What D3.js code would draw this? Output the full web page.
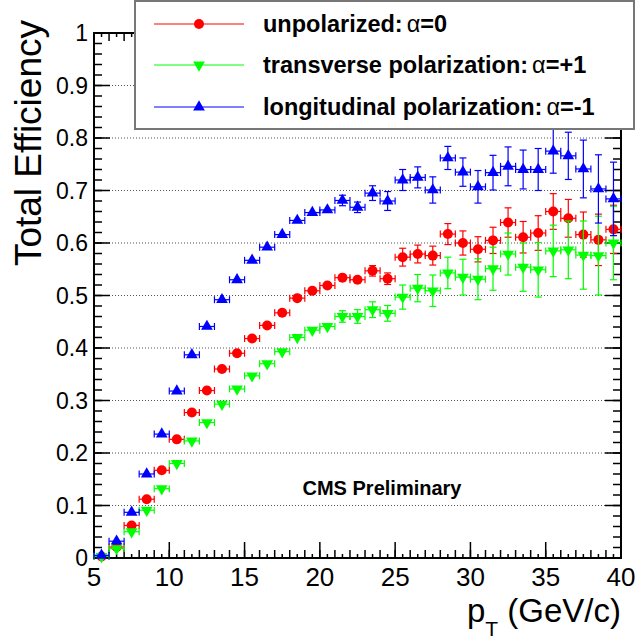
<!DOCTYPE html>
<html>
<head>
<meta charset="utf-8">
<script src="https://cdn.jsdelivr.net/npm/d3@7/dist/d3.min.js"></script>
<style>
  body { margin: 0; background: #fff; }
  svg { display: block; font-family: "Liberation Sans", Arial, sans-serif; }
</style>
</head>
<body>
<div id="chart"></div>
<script>
// bin centres (GeV/c)
var ptBins = [5.5, 6.5, 7.5, 8.5, 9.5, 10.5, 11.5, 12.5, 13.5, 14.5,
              15.5, 16.5, 17.5, 18.5, 19.5, 20.5, 21.5, 22.5, 23.5, 24.5,
              25.5, 26.5, 27.5, 28.5, 29.5, 30.5, 31.5, 32.5, 33.5, 34.5,
              35.5, 36.5, 37.5, 38.5, 39.5];
var binHalfWidth = 0.5;

// unpolarized: alpha = 0
var unpol = [0.003, 0.021, 0.062, 0.112, 0.167, 0.226, 0.277, 0.319, 0.360, 0.390,
             0.418, 0.443, 0.467, 0.495, 0.509, 0.519, 0.534, 0.530, 0.547, 0.532,
             0.573, 0.579, 0.576, 0.617, 0.600, 0.588, 0.605, 0.639, 0.611, 0.619,
             0.660, 0.647, 0.616, 0.606, 0.626];
var unpolErr = [0.002, 0.003, 0.003, 0.004, 0.004, 0.004, 0.005, 0.005, 0.005, 0.005,
                0.006, 0.006, 0.006, 0.007, 0.007, 0.008, 0.008, 0.009, 0.010, 0.011,
                0.017, 0.017, 0.018, 0.020, 0.023, 0.024, 0.025, 0.028, 0.030, 0.033,
                0.034, 0.036, 0.043, 0.049, 0.046];

// transverse polarization: alpha = +1
var trans = [0.003, 0.018, 0.050, 0.091, 0.132, 0.180, 0.223, 0.258, 0.293, 0.322,
             0.347, 0.370, 0.393, 0.420, 0.434, 0.441, 0.460, 0.460, 0.473, 0.466,
             0.497, 0.514, 0.509, 0.543, 0.535, 0.531, 0.551, 0.579, 0.554, 0.549,
             0.585, 0.587, 0.577, 0.576, 0.600];
var transErr = [0.002, 0.003, 0.003, 0.004, 0.004, 0.004, 0.005, 0.005, 0.005, 0.006,
                0.006, 0.006, 0.007, 0.007, 0.008, 0.009, 0.011, 0.013, 0.015, 0.015,
                0.023, 0.026, 0.030, 0.030, 0.034, 0.039, 0.041, 0.040, 0.046, 0.052,
                0.049, 0.055, 0.065, 0.075, 0.070];

// longitudinal polarization: alpha = -1
var longi = [0.005, 0.032, 0.087, 0.160, 0.236, 0.318, 0.387, 0.441, 0.492, 0.530,
             0.567, 0.592, 0.616, 0.643, 0.658, 0.663, 0.681, 0.668, 0.695, 0.680,
             0.720, 0.725, 0.701, 0.762, 0.735, 0.707, 0.734, 0.746, 0.740, 0.740,
             0.775, 0.766, 0.741, 0.703, 0.684];
var longiErr = [0.003, 0.004, 0.004, 0.005, 0.005, 0.005, 0.005, 0.006, 0.006, 0.006,
                0.006, 0.007, 0.007, 0.008, 0.008, 0.009, 0.010, 0.010, 0.014, 0.018,
                0.020, 0.020, 0.025, 0.022, 0.027, 0.031, 0.033, 0.037, 0.037, 0.040,
                0.042, 0.045, 0.055, 0.065, 0.070];

var xTicks = [5, 10, 15, 20, 25, 30, 35, 40];
var yTicks = [0, 0.1, 0.2, 0.3, 0.4, 0.5, 0.6, 0.7, 0.8, 0.9, 1];
var yTickLabels = ["0", "0.1", "0.2", "0.3", "0.4", "0.5", "0.6", "0.7", "0.8", "0.9", "1"];

var seriesNames = ["unpolarized:", "transverse polarization:", "longitudinal polarization:"];
var seriesAlpha = ["=0", "=+1", "=-1"];

var series = [
  {name: seriesNames[0], alpha: seriesAlpha[0], y: unpol, err: unpolErr, color: "#ff0000", marker: "circle"},
  {name: seriesNames[1], alpha: seriesAlpha[1], y: trans, err: transErr, color: "#00ff00", marker: "down"},
  {name: seriesNames[2], alpha: seriesAlpha[2], y: longi, err: longiErr, color: "#0000ff", marker: "up"}
];

// frame
var W = 635, H = 639;
var frame = {left: 94, right: 621, top: 33, bottom: 558};

var x = d3.scaleLinear().domain([5, 40]).range([frame.left, frame.right]);
var y = d3.scaleLinear().domain([0, 1]).range([frame.bottom, frame.top]);

var svg = d3.select("#chart").append("svg")
  .attr("width", W)
  .attr("height", H);

// dotted horizontal grid
svg.append("g")
  .selectAll("line")
  .data(yTicks.filter(function(d) { return d > 0 && d < 1; }))
  .enter().append("line")
    .attr("x1", frame.left)
    .attr("x2", frame.right)
    .attr("y1", function(d) { return y(d); })
    .attr("y2", function(d) { return y(d); })
    .style("stroke", "#555")
    .style("stroke-width", 1)
    .style("stroke-dasharray", "1,2");

// axes (ROOT style, ticks inside, on all four sides)
var yMinor = d3.range(0, 1.0001, 0.02);
var xMinor = d3.range(5, 40.0001, 1);
var xTiny = d3.range(5.5, 40, 1);

function tickLines(g, vals, len, horizontal, base, dir) {
  g.selectAll(null)
    .data(vals)
    .enter().append("line")
      .attr("x1", function(d) { return horizontal ? x(d) : base; })
      .attr("x2", function(d) { return horizontal ? x(d) : base + dir * len; })
      .attr("y1", function(d) { return horizontal ? base : y(d); })
      .attr("y2", function(d) { return horizontal ? base + dir * len : y(d); })
      .style("stroke", "#000")
      .style("stroke-width", 1.5);
}

var axes = svg.append("g");
tickLines(axes, yMinor, 8, false, frame.left, 1);
tickLines(axes, yTicks, 16, false, frame.left, 1);
tickLines(axes, yMinor, 8, false, frame.right, -1);
tickLines(axes, yTicks, 16, false, frame.right, -1);
tickLines(axes, xTiny, 4, true, frame.bottom, -1);
tickLines(axes, xMinor, 8, true, frame.bottom, -1);
tickLines(axes, xTicks, 16, true, frame.bottom, -1);
tickLines(axes, xTiny, 4, true, frame.top, 1);
tickLines(axes, xMinor, 8, true, frame.top, 1);
tickLines(axes, xTicks, 16, true, frame.top, 1);

axes.append("rect")
  .attr("x", frame.left)
  .attr("y", frame.top)
  .attr("width", frame.right - frame.left)
  .attr("height", frame.bottom - frame.top)
  .style("fill", "none")
  .style("stroke", "#000")
  .style("stroke-width", 2);

// tick labels
svg.append("g")
  .selectAll("text")
  .data(yTicks)
  .enter().append("text")
    .attr("x", frame.left - 6)
    .attr("y", function(d) { return y(d) + 8; })
    .attr("text-anchor", "end")
    .style("font-size", "23px")
    .text(function(d, i) { return yTickLabels[i]; });

svg.append("g")
  .selectAll("text")
  .data(xTicks)
  .enter().append("text")
    .attr("x", function(d) { return x(d); })
    .attr("y", 586)
    .attr("text-anchor", "middle")
    .style("font-size", "26px")
    .text(function(d) { return d; });

// axis titles
svg.append("text")
  .attr("transform", "translate(41,20) rotate(-90)")
  .attr("text-anchor", "end")
  .style("font-size", "37px")
  .text("Total Efficiency");

var xt = svg.append("text")
  .attr("x", frame.right)
  .attr("y", 622)
  .attr("text-anchor", "end")
  .style("font-size", "33px");
xt.append("tspan").text("p");
xt.append("tspan").attr("dy", 14).style("font-size", "21px").text("T");
xt.append("tspan").attr("dy", -14).text(" (GeV/c)");

svg.append("text")
  .attr("x", 382)
  .attr("y", 495)
  .attr("text-anchor", "middle")
  .style("font-size", "20px")
  .style("font-weight", "bold")
  .text("CMS Preliminary");

// markers
function drawMarker(g, kind, color, cx, cy) {
  if (kind === "circle") {
    g.append("circle")
      .attr("cx", cx).attr("cy", cy).attr("r", 5)
      .style("fill", color);
  } else {
    g.append("path")
      .attr("d", d3.symbol().type(d3.symbolTriangle).size(60)())
      .attr("transform", "translate(" + cx + "," + cy + ")" + (kind === "down" ? " rotate(180)" : ""))
      .style("fill", color);
  }
}

var capH = 3.5, capW = 3.5;
series.forEach(function(s) {
  var g = svg.append("g");
  ptBins.forEach(function(pt, i) {
    var cx = x(pt), cy = y(s.y[i]);
    var x0 = x(pt - binHalfWidth), x1 = x(pt + binHalfWidth);
    var yHi = y(s.y[i] + s.err[i]), yLo = y(s.y[i] - s.err[i]);
    var eb = g.append("g").style("stroke", s.color).style("stroke-width", 1.2);
    // horizontal bar with caps
    eb.append("line").attr("x1", x0).attr("x2", x1).attr("y1", cy).attr("y2", cy);
    eb.append("line").attr("x1", x0).attr("x2", x0).attr("y1", cy - capH).attr("y2", cy + capH);
    eb.append("line").attr("x1", x1).attr("x2", x1).attr("y1", cy - capH).attr("y2", cy + capH);
    // vertical bar with caps
    if (cy - yHi > 5) {
      eb.append("line").attr("x1", cx).attr("x2", cx).attr("y1", yHi).attr("y2", yLo);
      eb.append("line").attr("x1", cx - capW).attr("x2", cx + capW).attr("y1", yHi).attr("y2", yHi);
      eb.append("line").attr("x1", cx - capW).attr("x2", cx + capW).attr("y1", yLo).attr("y2", yLo);
    }
    drawMarker(g, s.marker, s.color, cx, cy);
  });
});

// legend
var leg = svg.append("g");
leg.append("rect")
  .attr("x", 135).attr("y", 1)
  .attr("width", 499).attr("height", 128)
  .style("fill", "#fff")
  .style("stroke", "#777")
  .style("stroke-width", 2);

var rowY = [24, 65, 107];
series.forEach(function(s, i) {
  leg.append("line")
    .attr("x1", 154).attr("x2", 244)
    .attr("y1", rowY[i]).attr("y2", rowY[i])
    .style("stroke", s.color)
    .style("stroke-width", 1.2);
  drawMarker(leg, s.marker, s.color, 199, rowY[i]);
  var t = leg.append("text")
    .attr("x", 263)
    .attr("y", rowY[i] + 8)
    .style("font-size", "23.5px")
    .style("font-weight", "bold");
  t.append("tspan").text(s.name);
  t.append("tspan").attr("dx", 4).style("font-weight", "normal").text("\u03b1");
  t.append("tspan").text(s.alpha);
});
</script>
</body>
</html>
